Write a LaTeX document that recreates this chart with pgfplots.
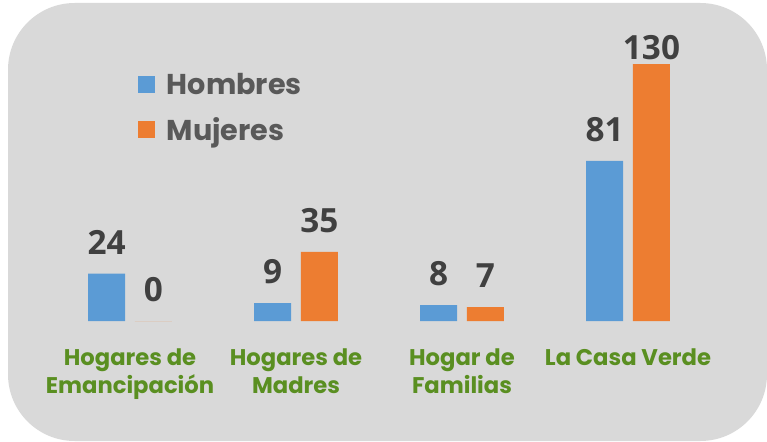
\documentclass[border=0pt]{standalone}
\usepackage{fontspec}
\setmainfont{Poppins}
\newfontfamily\numfont{Open Sans}
\usepackage{pgfplots}
\usepackage{pgfplotstable}
\pgfplotsset{compat=1.18}
\definecolor{hblue}{HTML}{5B9BD5}
\definecolor{morange}{HTML}{ED7D31}
\definecolor{bggray}{HTML}{D9D9D9}
\definecolor{labgreen}{HTML}{5A8F21}
\definecolor{valgray}{HTML}{404040}
\definecolor{leggray}{HTML}{595959}

% x = category, y = value, off = gap of the value label above the bar (pt)
\pgfplotstableread{
x y off
0 24 14.25
1 9 14.25
2 8 14.25
3 81 14.25
}\hombres
\pgfplotstableread{
x y off
0 0 14.25
1 35 14.25
2 7 14.25
3 130 3
}\mujeres

\begin{document}
\begin{tikzpicture}
\useasboundingbox (0,0) rectangle (575.25pt,-331.5pt);
\fill[bggray, rounded corners=50pt] (6pt,-2.25pt) rectangle (575.25pt,-330.75pt);
\begin{axis}[
  at={(35.25pt,-240.75pt)}, anchor=south west,
  scale only axis, width=498pt, height=192.75pt,
  xmin=-0.5, xmax=3.5, ymin=0, ymax=130,
  clip=false,
  axis line style={draw=none}, tick style={draw=none},
  ytick=\empty,
  xtick={0,1,2,3},
  xticklabels={{Hogares de\\Emancipación},{Hogares de\\Madres},{Hogar de\\Familias},{La Casa Verde}},
  xticklabel style={font=\bfseries\fontsize{17}{21}\selectfont, text=labgreen,
    align=center, inner sep=0pt, anchor=north, yshift=-16pt},
  ybar, bar width=27.75pt,
  nodes near coords,
  /pgf/number format/assume math mode=true,
  visualization depends on={\thisrow{off} \as \off},
  every node near coord/.append style={font=\numfont\bfseries\fontsize{25}{30}\selectfont,
    text=valgray, inner sep=0pt, yshift=\off pt},
  legend style={at={(0.137,0.977)}, anchor=north west, draw=none, fill=none,
    inner sep=0pt, row sep=12pt, column sep=6.75pt,
    font=\bfseries\fontsize{21.5}{26}\selectfont, text=leggray},
  legend cell align=left,
]
\addplot[fill=hblue, draw=none, bar shift=-17.6pt,
  legend image code/.code={\fill[hblue] (0pt,-6.4pt) rectangle (12.75pt,6.4pt);}]
  table[x=x, y=y] {\hombres};
\addplot[fill=morange, draw=none, bar shift=17.6pt,
  legend image code/.code={\fill[morange] (0pt,-6.4pt) rectangle (12.75pt,6.4pt);}]
  table[x=x, y=y] {\mujeres};
\legend{Hombres, Mujeres}
\end{axis}
\end{tikzpicture}
\end{document}
